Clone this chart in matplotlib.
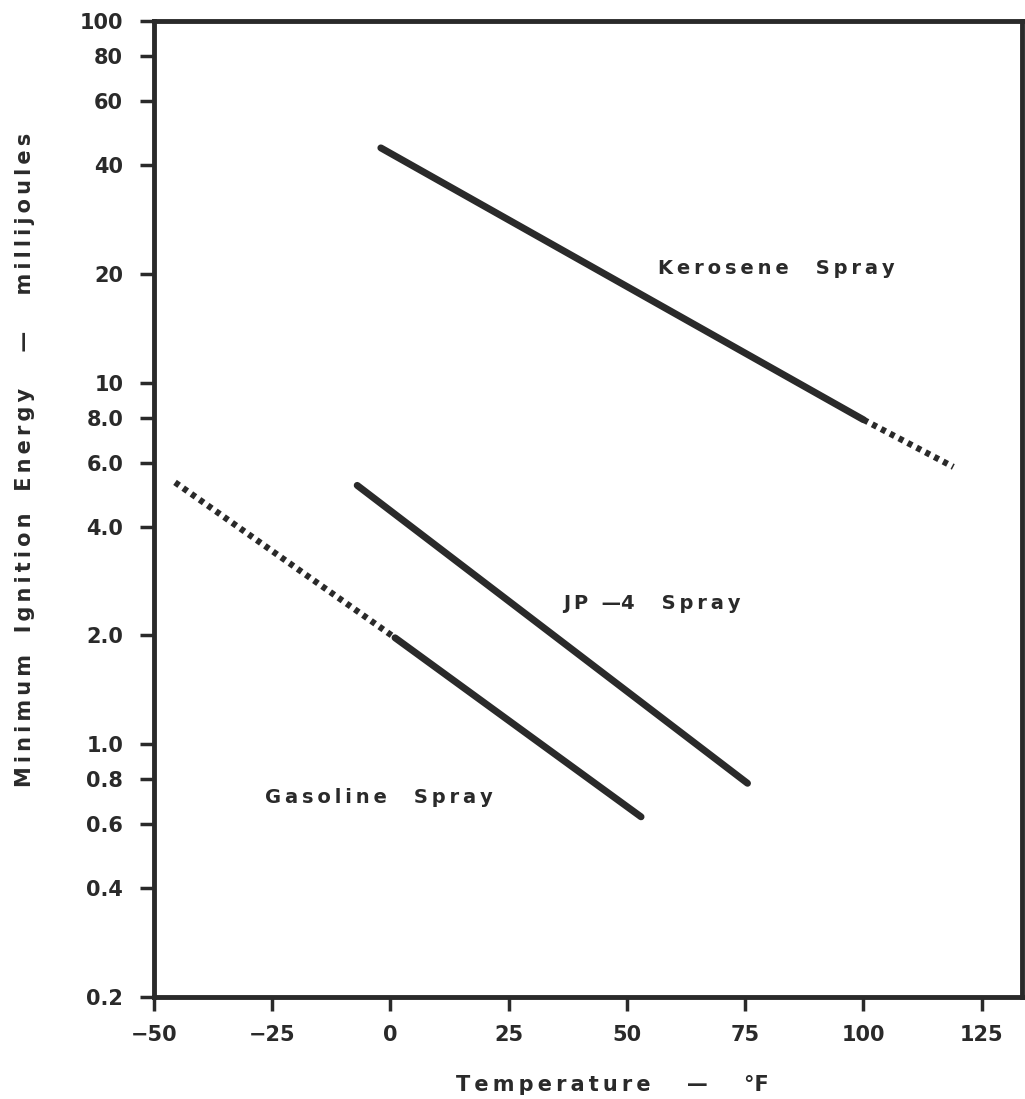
import matplotlib
matplotlib.use("Agg")
import matplotlib.pyplot as plt
from matplotlib.ticker import FixedLocator, NullLocator

# Datos (temperatura en °F, energía en mJ)
kero_x = [-2, 100]
kero_y = [44.6, 7.9]
kero_ext_x = [100, 119]
kero_ext_y = [7.9, 5.85]

jp4_x = [-7, 75.5]
jp4_y = [5.2, 0.78]

gas_ext_x = [-45.5, 1]
gas_ext_y = [5.3, 1.97]
gas_x = [1, 53]
gas_y = [1.97, 0.63]

yticks = [0.2, 0.4, 0.6, 0.8, 1.0, 2.0, 4.0, 6.0, 8.0, 10, 20, 40, 60, 80, 100]
ylabels = ["0.2", "0.4", "0.6", "0.8", "1.0", "2.0", "4.0", "6.0", "8.0",
           "10", "20", "40", "60", "80", "100"]
xticks = [-50, -25, 0, 25, 50, 75, 100, 125]
xlabels = ["−50", "−25", "0", "25", "50", "75", "100", "125"]


def spaced(s):
    # imitar el espaciado de letras del original
    return "\u2009".join(s)


plt.rcParams['font.family'] = 'DejaVu Sans'
plt.rcParams['font.weight'] = 'bold'

fig = plt.figure(figsize=(10.25, 10.99), dpi=100)
ax = fig.add_axes([0.150, 0.0928, 0.847, 0.888])

ax.set_yscale('log')
ax.set_xlim(-50, 133.5)
ax.set_ylim(0.2, 100)

col = '#2a2a2a'
ax.plot(kero_x, kero_y, color=col, lw=5, solid_capstyle='round')
ax.plot(kero_ext_x, kero_ext_y, color=col, lw=4.5, linestyle=(0, (0.8, 0.8)))
ax.plot(jp4_x, jp4_y, color=col, lw=5, solid_capstyle='round')
ax.plot(gas_ext_x, gas_ext_y, color=col, lw=4.5, linestyle=(0, (0.8, 0.8)))
ax.plot(gas_x, gas_y, color=col, lw=5, solid_capstyle='round')

ax.text(56.6, 20.7, spaced("Kerosene") + "    " + spaced("Spray"),
        fontsize=14, fontweight='bold', color=col, va='center', ha='left')
ax.text(36.5, 2.45, spaced("JP") + "  —" + spaced("4") + "    " + spaced("Spray"),
        fontsize=14, fontweight='bold', color=col, va='center', ha='left')
ax.text(-26.4, 0.714, spaced("Gasoline") + "    " + spaced("Spray"),
        fontsize=14, fontweight='bold', color=col, va='center', ha='left')

ax.yaxis.set_major_locator(FixedLocator(yticks))
ax.yaxis.set_minor_locator(NullLocator())
ax.set_yticklabels(ylabels)
ax.set_xticks(xticks)
ax.set_xticklabels(xlabels)

for s in ax.spines.values():
    s.set_linewidth(3.5)
    s.set_color(col)

ax.tick_params(axis='both', direction='out', length=10, width=2.5, color=col,
               labelsize=15, labelcolor=col)
ax.tick_params(axis='y', pad=12)
ax.tick_params(axis='x', pad=10)

fig.text(612 / 1025, 1 - 1085 / 1099,
         spaced("Temperature") + "     —     °F",
         fontsize=15, fontweight='bold', color=col, ha='center', va='center')
fig.text(25 / 1025, 1 - 460 / 1099,
         spaced("Minimum") + "   " + spaced("Ignition") + "   " + spaced("Energy")
         + "     —     " + spaced("millijoules"),
         fontsize=15, fontweight='bold', color=col, ha='center', va='center',
         rotation=90)

fig.savefig('out.png', dpi=100)
